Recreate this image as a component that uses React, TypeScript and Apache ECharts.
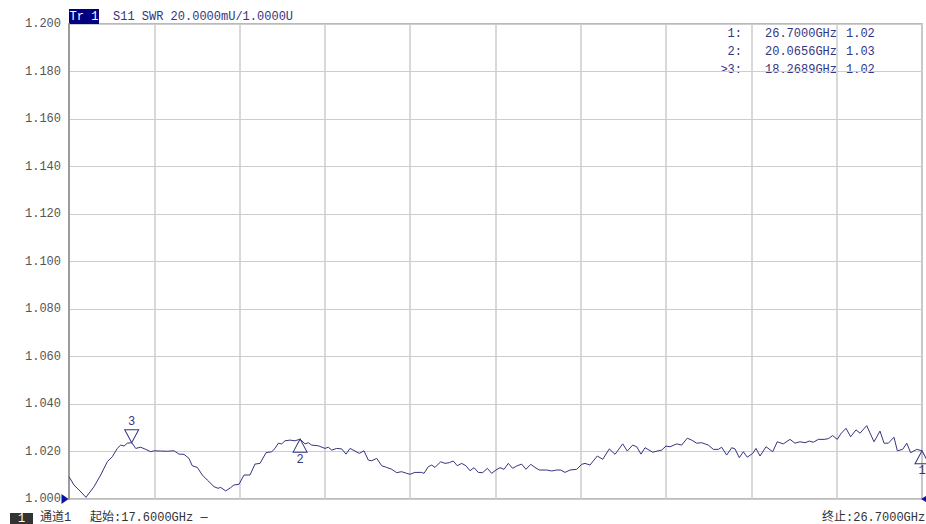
import React, { useEffect, useRef } from "react";
import * as echarts from "echarts";

// ---- data ----
const freqGHz = [
  17.600, 17.653, 17.707, 17.781, 17.867, 17.938, 18.009, 18.062, 18.115, 18.152,
  18.187, 18.222, 18.269, 18.312, 18.365, 18.418, 18.472, 18.507, 18.578, 18.649,
  18.720, 18.774, 18.827, 18.880, 18.915, 18.969, 19.022, 19.075, 19.147, 19.190,
  19.218, 19.272, 19.325, 19.360, 19.414, 19.467, 19.531, 19.584, 19.638, 19.702,
  19.762, 19.798, 19.833, 19.869, 19.904, 19.958, 20.011, 20.066, 20.118, 20.153,
  20.189, 20.260, 20.331, 20.366, 20.403, 20.456, 20.509, 20.555, 20.598, 20.651,
  20.697, 20.747, 20.793, 20.829, 20.883, 20.936, 20.989, 21.043, 21.096, 21.149,
  21.203, 21.238, 21.291, 21.363, 21.387, 21.433, 21.469, 21.505, 21.565, 21.611,
  21.657, 21.700, 21.742, 21.789, 21.835, 21.878, 21.921, 21.966, 22.013, 22.063,
  22.109, 22.155, 22.198, 22.241, 22.287, 22.333, 22.376, 22.429, 22.475, 22.526,
  22.571, 22.617, 22.696, 22.750, 22.803, 22.846, 22.891, 22.945, 23.016, 23.070,
  23.105, 23.158, 23.236, 23.294, 23.364, 23.425, 23.507, 23.556, 23.614, 23.656,
  23.702, 23.745, 23.827, 23.887, 23.923, 23.969, 24.012, 24.083, 24.136, 24.196,
  24.243, 24.296, 24.350, 24.420, 24.474, 24.527, 24.563, 24.616, 24.670, 24.705,
  24.751, 24.794, 24.836, 24.894, 24.929, 24.972, 25.036, 25.107, 25.156, 25.220,
  25.292, 25.345, 25.398, 25.452, 25.498, 25.540, 25.594, 25.655, 25.700, 25.747,
  25.796, 25.833, 25.889, 25.939, 25.996, 26.039, 26.110, 26.188, 26.252, 26.295,
  26.341, 26.401, 26.437, 26.494, 26.537, 26.579, 26.643, 26.700,
];

const swrValues = [
  1.0094, 1.0059, 1.0038, 1.0007, 1.0052, 1.0101, 1.0157, 1.0178, 1.0213, 1.0227,
  1.0223, 1.0235, 1.0237, 1.0213, 1.0218, 1.0209, 1.0199, 1.0203, 1.0202, 1.0201,
  1.0203, 1.0189, 1.0188, 1.0171, 1.0140, 1.0133, 1.0101, 1.0080, 1.0052, 1.0045,
  1.0049, 1.0034, 1.0048, 1.0059, 1.0062, 1.0101, 1.0101, 1.0147, 1.0150, 1.0195,
  1.0199, 1.0213, 1.0235, 1.0232, 1.0245, 1.0248, 1.0245, 1.0252, 1.0232, 1.0237,
  1.0227, 1.0224, 1.0213, 1.0218, 1.0206, 1.0213, 1.0211, 1.0189, 1.0213, 1.0202,
  1.0192, 1.0203, 1.0164, 1.0161, 1.0171, 1.0140, 1.0133, 1.0125, 1.0111, 1.0115,
  1.0108, 1.0104, 1.0112, 1.0112, 1.0108, 1.0136, 1.0143, 1.0133, 1.0157, 1.0150,
  1.0153, 1.0160, 1.0140, 1.0150, 1.0140, 1.0119, 1.0132, 1.0112, 1.0111, 1.0129,
  1.0108, 1.0122, 1.0132, 1.0125, 1.0150, 1.0129, 1.0139, 1.0147, 1.0125, 1.0146,
  1.0133, 1.0122, 1.0122, 1.0118, 1.0122, 1.0122, 1.0112, 1.0122, 1.0125, 1.0146,
  1.0150, 1.0143, 1.0181, 1.0167, 1.0211, 1.0188, 1.0232, 1.0202, 1.0227, 1.0220,
  1.0189, 1.0216, 1.0197, 1.0203, 1.0206, 1.0223, 1.0220, 1.0232, 1.0227, 1.0256,
  1.0248, 1.0235, 1.0237, 1.0227, 1.0209, 1.0209, 1.0218, 1.0185, 1.0216, 1.0211,
  1.0174, 1.0199, 1.0176, 1.0192, 1.0213, 1.0181, 1.0220, 1.0199, 1.0241, 1.0232,
  1.0251, 1.0235, 1.0241, 1.0237, 1.0244, 1.0239, 1.0251, 1.0251, 1.0254, 1.0267,
  1.0251, 1.0274, 1.0298, 1.0262, 1.0291, 1.0277, 1.0309, 1.0241, 1.0286, 1.0235,
  1.0235, 1.0260, 1.0203, 1.0209, 1.0235, 1.0195, 1.0209, 1.0203,
];

const yMin = 1.0;
const yMax = 1.2;
const yStep = 0.02;
const xStart = 17.6;
const xStop = 26.7;
const xDivisions = 10;

const markerIds = ["1", "2", "3"];
const markerFreqGHz = [26.7, 20.0656, 18.2689];
const markerSwr = [1.0203, 1.0252, 1.0237];
const markerAbove = [false, false, true];
const activeMarker = 2;

const traceTag = "Tr 1";
const traceTitle = "S11 SWR 20.0000mU/1.0000U";
const channelTag = "1";
const channelLabel = "通道1";
const startLabel = "起始:" + xStart.toFixed(4) + "GHz —";
const stopLabel = "终止:" + xStop.toFixed(4) + "GHz";

const NAVY = "#35357f";
const FONT_FAMILY = "'Liberation Mono', 'Noto Sans CJK SC', monospace";
const FONT = "12px " + FONT_FAMILY;

const UP_TRI = "path://M7,0L14,13L0,13Z";
const DOWN_TRI = "path://M0,0L14,0L7,13Z";

function buildOption(): any {
  const markerPoints = markerIds.map((id, i) => ({
    coord: [markerFreqGHz[i], markerSwr[i]],
    symbol: markerAbove[i] ? DOWN_TRI : UP_TRI,
    symbolSize: [14, 13],
    symbolOffset: [0, markerAbove[i] ? -6.5 : 6.5],
    itemStyle: { color: "rgba(0,0,0,0)", borderColor: NAVY, borderWidth: 1 },
    label: {
      show: true,
      position: markerAbove[i] ? "top" : "bottom",
      distance: 1,
      formatter: id,
      color: NAVY,
      fontSize: 12,
      fontFamily: FONT_FAMILY,
    },
  }));

  const refPoints = [
    {
      coord: [xStart, yMin],
      symbol: "path://M0,0L8,5L0,10Z",
      symbolSize: [7, 10],
      symbolOffset: [-4, 0],
      itemStyle: { color: "#1010a0" },
      label: { show: false },
    },
    {
      coord: [xStop, yMin],
      symbol: "path://M8,0L8,10L0,5Z",
      symbolSize: [6, 7],
      symbolOffset: [2, 0],
      itemStyle: { color: "#1010a0" },
      label: { show: false },
    },
  ];

  const tableRows: any[] = [];
  markerIds.forEach((id, i) => {
    const y = 34 + 18 * i;
    tableRows.push(
      {
        type: "text",
        x: 742,
        y,
        style: {
          text: (i === activeMarker ? ">" : "") + id + ":",
          fill: NAVY,
          font: FONT,
          textAlign: "right",
          textVerticalAlign: "middle",
        },
      },
      {
        type: "text",
        x: 765,
        y,
        style: {
          text: markerFreqGHz[i].toFixed(4) + "GHz",
          fill: NAVY,
          font: FONT,
          textAlign: "left",
          textVerticalAlign: "middle",
        },
      },
      {
        type: "text",
        x: 846,
        y,
        style: {
          text: markerSwr[i].toFixed(2),
          fill: NAVY,
          font: FONT,
          textAlign: "left",
          textVerticalAlign: "middle",
        },
      }
    );
  });

  return {
    animation: false,
    backgroundColor: "#ffffff",
    grid: {
      left: 69,
      right: 4,
      top: 24,
      bottom: 25,
      show: true,
      borderColor: "#a4a4a4",
      borderWidth: 1.5,
      backgroundColor: "transparent",
    },
    xAxis: [
      {
        type: "value",
        min: xStart,
        max: xStop,
        show: false,
      },
      {
        type: "value",
        min: 0,
        max: xDivisions,
        interval: 1,
        position: "top",
        axisLine: { show: false },
        axisTick: { show: false },
        axisLabel: { show: false },
        splitLine: { show: true, lineStyle: { color: "#cdcdcd", width: 1.5 } },
      },
    ],
    yAxis: {
      type: "value",
      min: yMin,
      max: yMax,
      interval: yStep,
      axisLine: { show: true, lineStyle: { color: "#9c9c9c", width: 2 } },
      axisTick: { show: false },
      axisLabel: {
        formatter: (v: number) => v.toFixed(3),
        color: "#555555",
        fontSize: 12,
        fontFamily: FONT_FAMILY,
        margin: 8,
      },
      splitLine: { show: true, lineStyle: { color: "#cdcdcd", width: 1 } },
    },
    series: [
      {
        type: "line",
        xAxisIndex: 0,
        data: freqGHz.map((f, i) => [f, swrValues[i]]),
        symbol: "none",
        lineStyle: { color: NAVY, width: 1 },
        itemStyle: { color: NAVY },
        silent: true,
        markPoint: {
          silent: true,
          animation: false,
          data: [...markerPoints, ...refPoints],
        },
      },
    ],
    graphic: [
      {
        type: "rect",
        shape: { x: 69, y: 9, width: 30, height: 15 },
        style: { fill: "#000080" },
      },
      {
        type: "text",
        x: 84,
        y: 16.5,
        style: {
          text: traceTag,
          fill: "#ffffff",
          font: FONT,
          textAlign: "center",
          textVerticalAlign: "middle",
        },
      },
      {
        type: "text",
        x: 113,
        y: 16.5,
        style: {
          text: traceTitle,
          fill: NAVY,
          font: FONT,
          textAlign: "left",
          textVerticalAlign: "middle",
        },
      },
      ...tableRows,
      {
        type: "rect",
        shape: { x: 10, y: 513, width: 23, height: 11 },
        style: { fill: "#333333" },
      },
      {
        type: "text",
        x: 21.5,
        y: 518.5,
        style: {
          text: channelTag,
          fill: "#ffffff",
          font: FONT,
          textAlign: "center",
          textVerticalAlign: "middle",
        },
      },
      {
        type: "text",
        x: 40,
        y: 518,
        style: {
          text: channelLabel,
          fill: "#333333",
          font: FONT,
          textAlign: "left",
          textVerticalAlign: "middle",
        },
      },
      {
        type: "text",
        x: 90,
        y: 518,
        style: {
          text: startLabel,
          fill: "#333333",
          font: FONT,
          textAlign: "left",
          textVerticalAlign: "middle",
        },
      },
      {
        type: "text",
        x: 822,
        y: 518,
        style: {
          text: stopLabel,
          fill: "#333333",
          font: FONT,
          textAlign: "left",
          textVerticalAlign: "middle",
        },
      },
    ],
  };
}

export default function App() {
  const ref = useRef<HTMLDivElement>(null);

  useEffect(() => {
    if (!ref.current) return;
    const chart = echarts.init(ref.current, undefined, { renderer: "svg" });
    chart.setOption(buildOption());
    return () => {
      chart.dispose();
    };
  }, []);

  return (
    <div
      ref={ref}
      style={{
        position: "fixed",
        left: 0,
        top: 0,
        width: 926,
        height: 524,
        background: "#ffffff",
        overflow: "hidden",
      }}
    />
  );
}
